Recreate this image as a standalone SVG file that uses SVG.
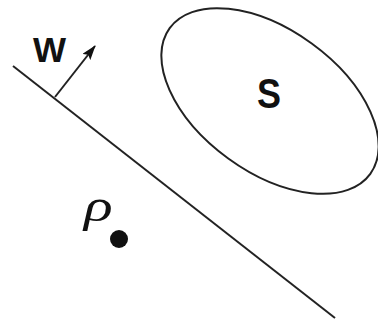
<svg xmlns="http://www.w3.org/2000/svg" width="378" height="325" viewBox="0 0 378 325">
<defs>
<marker id="ah" viewBox="0 0 15 10" refX="14" refY="5" markerWidth="15" markerHeight="10" orient="auto" markerUnits="userSpaceOnUse">
<path d="M0,0 L15,5 L0,10 L3,5 Z" fill="#111"/>
</marker>
</defs>
<style>
.ln{stroke:#222;stroke-width:2;fill:none}
.lbl{font-family:"Liberation Sans",Arial,sans-serif;fill:#111}
</style>
<rect width="378" height="325" fill="#fff"/>
<g id="plane">
<line class="ln" x1="13" y1="66" x2="335" y2="318"/>
</g>
<g id="connectors">
<line class="ln" x1="55" y1="97" x2="95" y2="46" marker-end="url(#ah)"/>
</g>
<g id="w">
<text class="lbl" x="33" y="62" font-size="35" font-weight="bold">W</text>
</g>
<g id="s">
<ellipse class="ln" cx="270" cy="101" rx="124" ry="71" transform="rotate(36 270 101)" stroke-width="1.6"/>
<text class="lbl" x="257" y="108" font-size="42" font-weight="bold" textLength="24" lengthAdjust="spacingAndGlyphs">S</text>
</g>
<g id="rho">
<text transform="translate(84 221) scale(1.3 1)" x="0" y="0" font-family="Liberation Serif,serif" font-style="italic" font-size="46" fill="#111">ρ</text>
<circle cx="119" cy="239" r="9" fill="#111"/>
</g>
</svg>
